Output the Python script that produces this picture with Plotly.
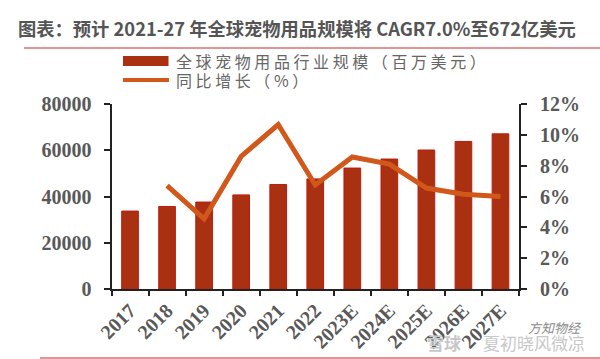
import plotly.graph_objects as go

W, H = 600, 359
categories = ["2017", "2018", "2019", "2020", "2021", "2022", "2023E", "2024E", "2025E", "2026E", "2027E"]
market_size = [33700, 35700, 37600, 40700, 45200, 47600, 52300, 56200, 60100, 63800, 67100]
growth = [None, 6.7, 4.55, 8.6, 10.67, 6.75, 8.56, 8.1, 6.55, 6.15, 6.0]
left_ticks = [0, 20000, 40000, 60000, 80000]
right_ticks = [0, 2, 4, 6, 8, 10, 12]
title_text = "图表：预计 2021-27 年全球宠物用品规模将 CAGR7.0%至672亿美元"
legend_bar = "全 球 宠 物 用 品 行 业 规 模 （ 百 万 美 元 ）"
legend_line = "同 比 增 长 （ % ）"
watermark_a = "雪球"
watermark_b = "夏初晓风微凉"
watermark_c = "方知物经"

BAR = "#A93010"
BAR_EDGE = "#C21A0C"
LINE = "#D2571B"
TXT = "#595959"
RULE = "#D9706E"
AX = "#222222"
serif = dict(family="Liberation Serif", size=20, color=TXT, weight="bold")
cjk = "Noto Sans CJK SC"

px = lambda x: x / W
py = lambda y: 1 - y / H

fig = go.Figure()
fig.add_bar(x=categories, y=market_size, marker=dict(color=BAR, line=dict(color=BAR_EDGE, width=1)),
            name="全球宠物用品行业规模（百万美元）", showlegend=False, yaxis="y")
fig.add_scatter(x=categories, y=growth, mode="lines", line=dict(color=LINE, width=5),
                name="同比增长（%）", showlegend=False, yaxis="y2", connectgaps=False)

axis_line = dict(showline=True, linecolor=AX, linewidth=2, showgrid=False, zeroline=False, automargin=False)
tick = dict(tickwidth=2, tickcolor=AX, ticks="outside")


def note(text, x, y, size, color, weight="normal", style="normal"):
    return dict(text=text, xref="paper", yref="paper", x=px(x), y=py(y), xanchor="left", yanchor="middle",
                showarrow=False, font=dict(family=cjk, size=size, color=color, weight=weight, style=style))


fig.update_layout(
    width=W, height=H, margin=dict(l=0, r=0, t=0, b=0), autosize=False,
    paper_bgcolor="white", plot_bgcolor="white", bargap=0.55,
    xaxis=dict(domain=[px(111.5), px(519)], type="category", range=[-0.5, 10.5],
               tickson="boundaries", ticklen=5, tickangle=-45, tickfont=serif, **tick, **axis_line),
    yaxis=dict(domain=[py(289), py(104)], range=[0, 80000], tickvals=left_ticks,
               ticktext=[str(v) for v in left_ticks], ticklen=6, ticklabelstandoff=8,
               tickfont=serif, **tick, **axis_line),
    yaxis2=dict(domain=[py(289), py(104)], range=[0, 12], overlaying="y", side="right",
                tickvals=right_ticks, ticktext=[f"{v}%" for v in right_ticks], ticklen=6,
                ticklabelstandoff=9, tickfont=serif, **tick, **axis_line),
    yaxis3=dict(domain=[py(289), py(104)], range=[0, 12], overlaying="y", side="right", anchor="x",
                tickvals=right_ticks, ticks="inside", ticklen=6, tickwidth=2, tickcolor=AX,
                showticklabels=False, showgrid=False, zeroline=False, showline=False, automargin=False),
    shapes=[
        dict(type="line", xref="paper", yref="paper", x0=px(24), x1=1, y0=py(48), y1=py(48),
             line=dict(color=RULE, width=1.5)),
        dict(type="line", xref="paper", yref="paper", x0=px(40), x1=1, y0=py(358), y1=py(358),
             line=dict(color=RULE, width=1.5)),
        dict(type="rect", xref="paper", yref="paper", x0=px(123), x1=px(168.5), y0=py(66), y1=py(56),
             fillcolor=BAR, line=dict(width=0)),
        dict(type="line", xref="paper", yref="paper", x0=px(123), x1=px(169), y0=py(80), y1=py(80),
             line=dict(color=LINE, width=4)),
    ],
    annotations=[
        note(title_text, 16, 28, 18.3, "#555555", "bold"),
        note(legend_bar, 174, 61, 16, "#666666"),
        note(legend_line, 174, 80, 16, "#666666"),
        note(watermark_a, 425, 342, 17, "#C8C8C8", "bold"),
        note(watermark_b, 481, 342, 17, "#C8C8C8"),
        note(watermark_c, 526, 327, 13, "#8A8A8A", style="italic"),
    ],
)
fig.write_html("out.html", config={"displayModeBar": False},
               post_script="document.body.style.margin='0';document.body.style.overflow='hidden';")
